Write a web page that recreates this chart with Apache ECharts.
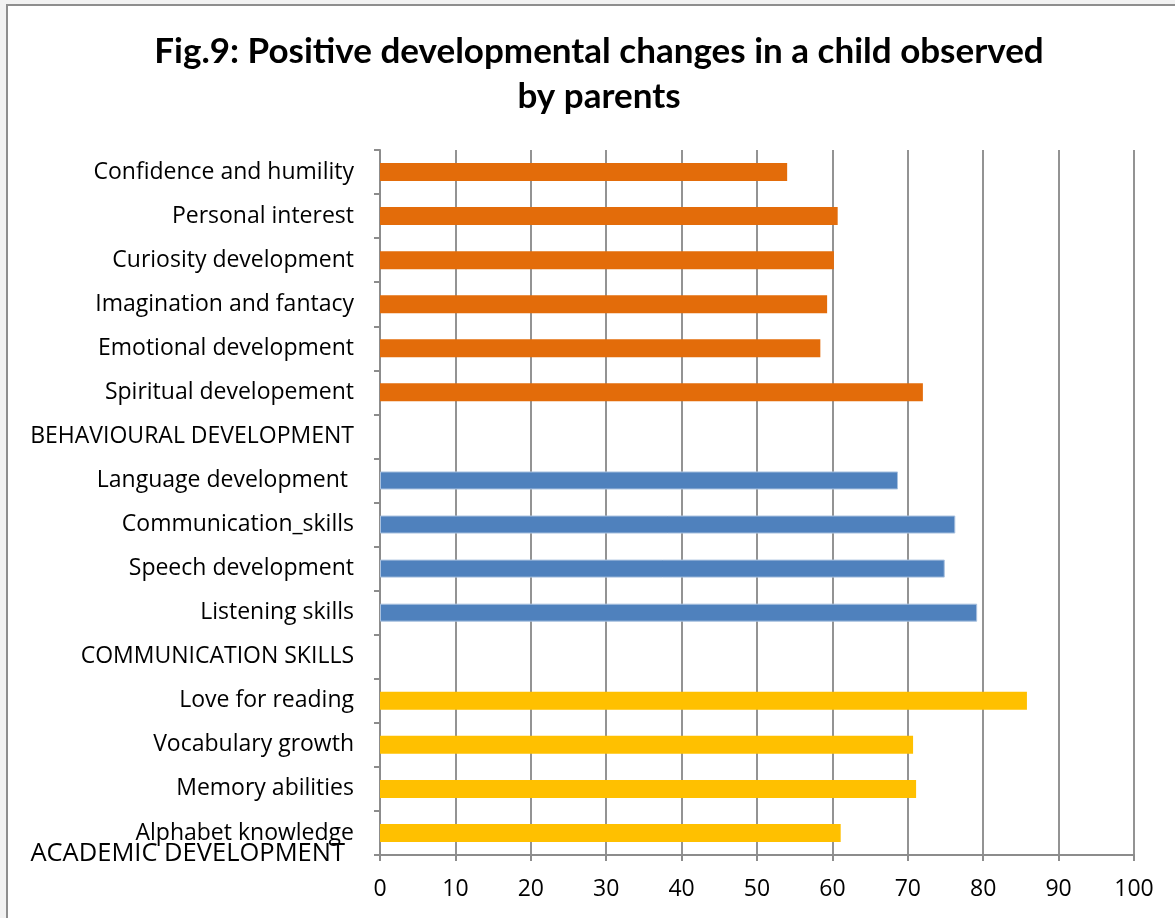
<!DOCTYPE html>
<html>
<head>
<meta charset="utf-8">
<script src="https://cdn.jsdelivr.net/npm/echarts@6/dist/echarts.min.js"></script>
<style>
html,body{margin:0;padding:0;background:#f2f2f2;}
#frame{position:absolute;left:6px;top:4px;width:1169px;height:914px;background:#fff;border-left:2px solid #8e8e8e;border-top:2px solid #8e8e8e;box-sizing:border-box;}
#chart{position:absolute;left:0;top:0;width:1175px;height:918px;}
</style>
</head>
<body>
<div id="frame"></div>
<div id="chart"></div>
<script>
// categories bottom -> top
var categories = [
  "Alphabet knowledge", "Memory abilities", "Vocabulary growth", "Love for reading",
  "COMMUNICATION SKILLS",
  "Listening skills", "Speech development", "Communication_skills", "Language development ",
  "BEHAVIOURAL DEVELOPMENT",
  "Spiritual developement", "Emotional development", "Imagination and fantacy",
  "Curiosity development", "Personal interest", "Confidence and humility"
];
var academicValues = [61.1, 71.1, 70.7, 85.8, null, null, null, null, null, null, null, null, null, null, null, null];
var communicationValues = [null, null, null, null, null, 79.2, 74.9, 76.3, 68.7, null, null, null, null, null, null, null];
var behaviouralValues = [null, null, null, null, null, null, null, null, null, null, 72.0, 58.4, 59.3, 60.2, 60.7, 54.0];
var xTicks = [0, 10, 20, 30, 40, 50, 60, 70, 80, 90, 100];
var titleText = "Fig.9: Positive developmental changes in a child observed\nby parents";
var bottomLabel = "ACADEMIC DEVELOPMENT";

var TFONT = "Lato";
var FONT = "Open Sans";
var chart = echarts.init(document.getElementById('chart'), null, {renderer: 'canvas'});
chart.setOption({
  animation: false,
  backgroundColor: 'transparent',
  title: {
    text: titleText,
    left: 594, top: 24, textAlign: 'center',
    textStyle: {fontFamily: TFONT, fontWeight: 'bold', fontSize: 35, color: '#000', lineHeight: 45}
  },
  grid: {left: 380, right: 41, top: 150, bottom: 63, containLabel: false},
  xAxis: {
    type: 'value', min: xTicks[0], max: xTicks[xTicks.length - 1], interval: 10,
    axisLine: {show: true, lineStyle: {color: '#8c8c8c', width: 2}},
    axisTick: {show: true, length: 6, lineStyle: {color: '#8c8c8c', width: 2}},
    splitLine: {show: true, lineStyle: {color: '#939393', width: 2}},
    axisLabel: {fontFamily: FONT, fontSize: 23, color: '#000', margin: 23}
  },
  yAxis: {
    type: 'category', data: categories,
    axisLine: {show: true, lineStyle: {color: '#8c8c8c', width: 2}},
    axisTick: {show: true, length: 6, lineStyle: {color: '#8c8c8c', width: 2}},
    splitLine: {show: false},
    axisLabel: {fontFamily: FONT, fontSize: 23, color: '#000', margin: 26}
  },
  series: [
    {name: 'Academic', type: 'bar', stack: 's', data: academicValues, barWidth: 18,
     itemStyle: {color: '#FFC000'}},
    {name: 'Communication', type: 'bar', stack: 's', data: communicationValues, barWidth: 18,
     itemStyle: {color: '#4F81BD', borderColor: '#a9c1df', borderWidth: 1}},
    {name: 'Behavioural', type: 'bar', stack: 's', data: behaviouralValues, barWidth: 18,
     itemStyle: {color: '#E36C0A'}}
  ],
  graphic: [{
    type: 'text', right: 1175 - 345, top: 841,
    style: {text: bottomLabel, fontFamily: FONT, fontSize: 25.5, fill: '#000'}
  }]
});
</script>
</body>
</html>
